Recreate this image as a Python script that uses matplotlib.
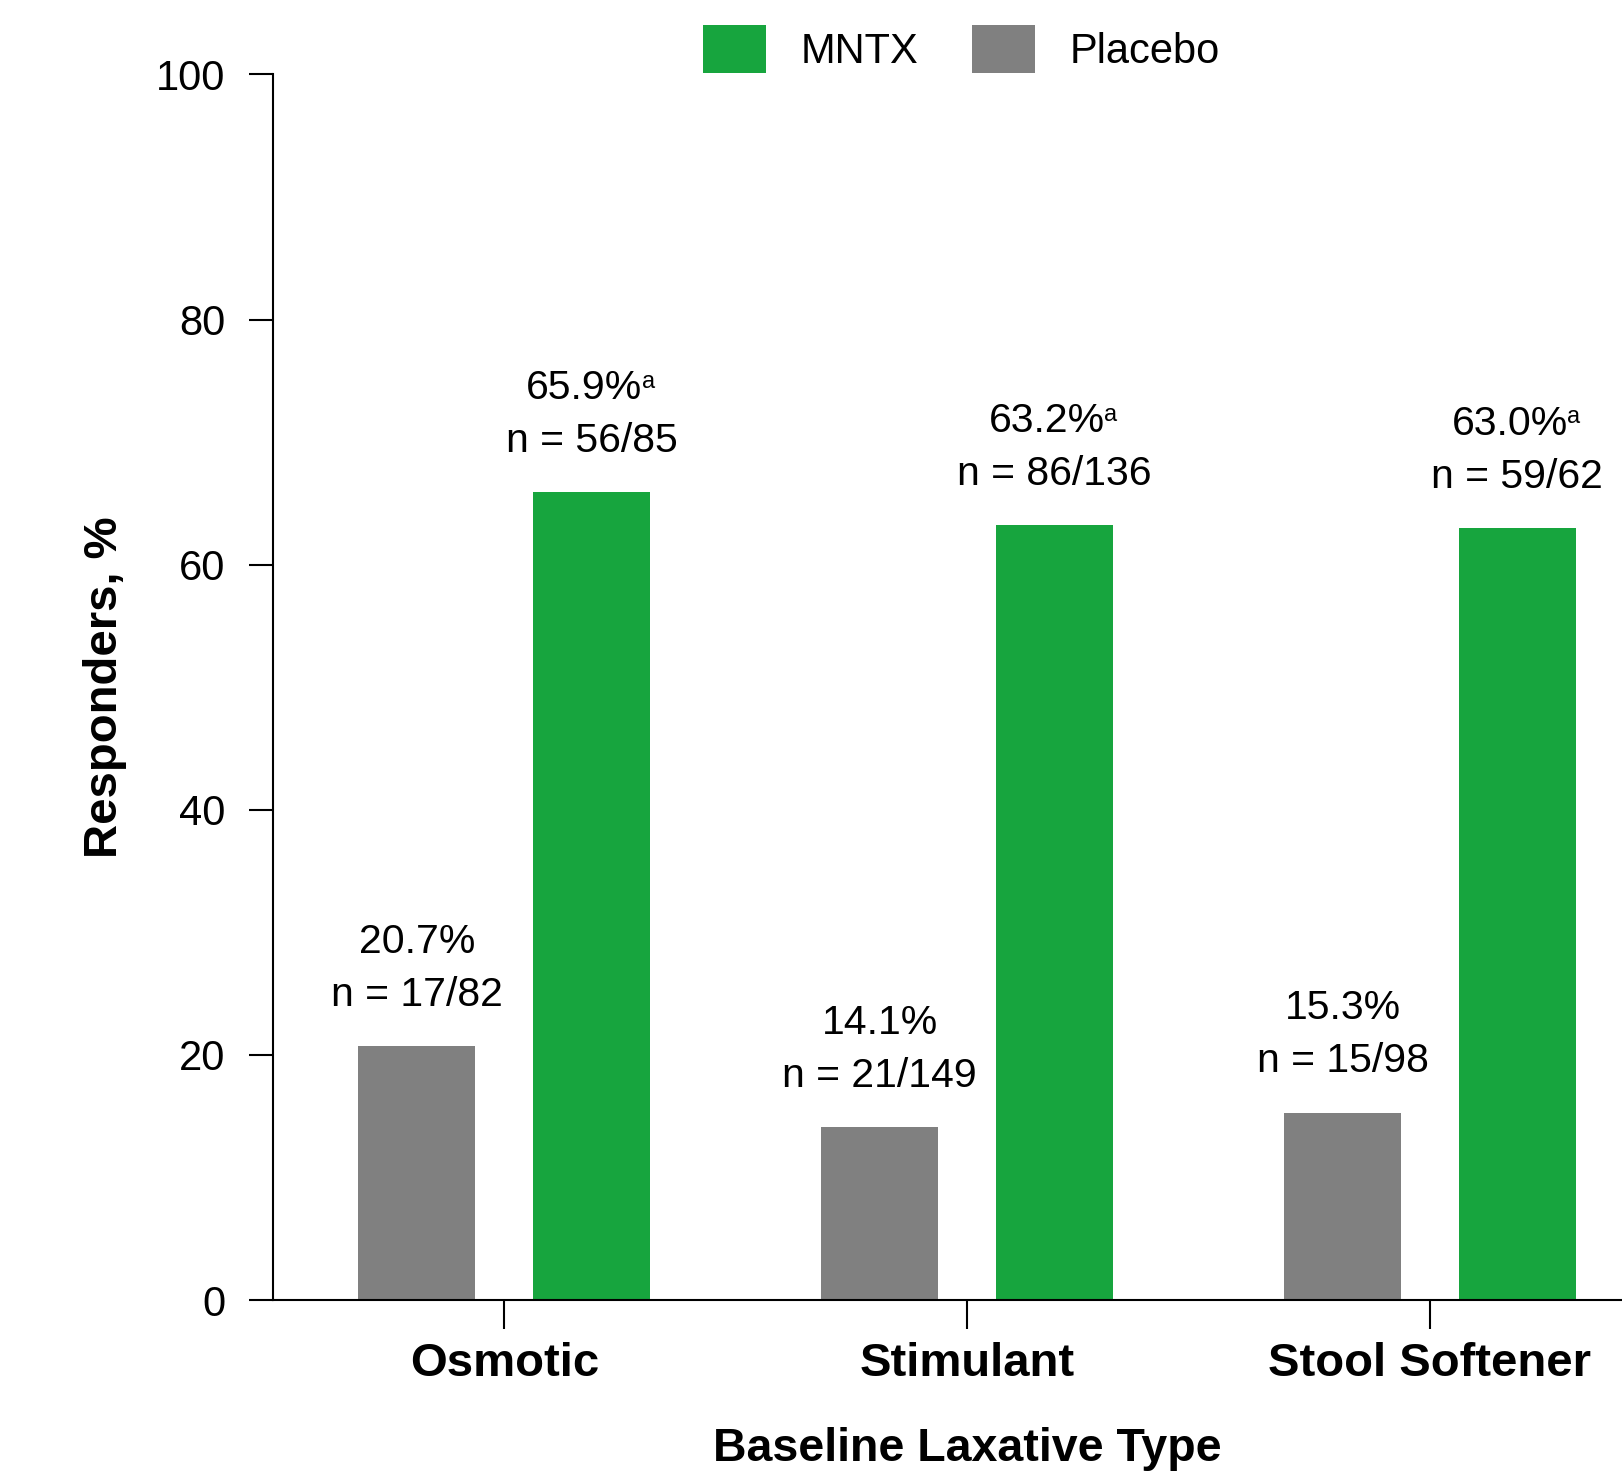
import matplotlib.pyplot as plt
import numpy as np

plt.rcParams['font.family'] = ['Liberation Sans', 'DejaVu Sans']

# data
categories = ['Osmotic', 'Stimulant', 'Stool Softener']
placebo = [20.7, 14.1, 15.3]
mntx = [65.9, 63.2, 63.0]
placebo_n = ['n = 17/82', 'n = 21/149', 'n = 15/98']
mntx_n = ['n = 56/85', 'n = 86/136', 'n = 59/62']
mntx_sup = ['a', 'a', 'a']

green = '#17a53e'
gray = '#808080'

fig = plt.figure(figsize=(16.22, 14.77), dpi=100)
ax = fig.add_axes([0.1683, 0.1198, 0.8317, 0.8298])

x = np.arange(len(categories))
w = 0.253
off = 0.189
b1 = ax.bar(x - off, placebo, w, color=gray, label='Placebo')
b2 = ax.bar(x + off, mntx, w, color=green, label='MNTX')

fs = 29.5
# value labels above bars
for xi, v, n in zip(x - off, placebo, placebo_n):
    ax.annotate(f'{v:.1f}%', (xi, v), xytext=(0, 67), textcoords='offset points',
                ha='center', va='baseline', fontsize=fs)
    ax.annotate(n, (xi, v), xytext=(0, 29), textcoords='offset points',
                ha='center', va='baseline', fontsize=fs)
for xi, v, n, s in zip(x + off, mntx, mntx_n, mntx_sup):
    t = ax.annotate(f'{v:.1f}%', (xi, v), xytext=(-5.5, 67), textcoords='offset points',
                    ha='center', va='baseline', fontsize=fs)
    # superscript footnote mark
    ax.annotate(s, xy=(1, 1), xycoords=t, xytext=(-0.5, -1), textcoords='offset points',
                ha='left', va='top', fontsize=17)
    ax.annotate(n, (xi, v), xytext=(0, 29), textcoords='offset points',
                ha='center', va='baseline', fontsize=fs)

ax.set_xlim(-0.5, 2.415)
ax.set_ylim(0, 100)
ax.set_yticks([0, 20, 40, 60, 80, 100])
ax.set_xticks(x)
ax.set_xticklabels(categories, fontsize=34, fontweight='bold')
ax.tick_params(axis='y', labelsize=30, length=17, width=1.5, pad=17.5)
ax.tick_params(axis='x', length=21, width=1.5, pad=9)
ax.spines['top'].set_visible(False)
ax.spines['right'].set_visible(False)
ax.spines['left'].set_linewidth(1.5)
ax.spines['bottom'].set_linewidth(1.5)

ax.set_ylabel('Responders, %', fontsize=34, fontweight='bold')
ax.yaxis.set_label_coords(-0.1245, 0.5)
ax.yaxis.label.set_va('center')
fig.text(967 / 1622, 1 - 1449 / 1477, 'Baseline Laxative Type', fontsize=33.5,
         fontweight='bold', ha='center', va='center')

fig.legend(handles=[b2, b1], labels=['MNTX', 'Placebo'], loc='center',
           bbox_to_anchor=(961.5 / 1622, 1 - 49 / 1477), ncol=2, frameon=False,
           fontsize=30, handlelength=1.51, handleheight=1.41, handletextpad=0.84,
           columnspacing=1.29, borderpad=0)

fig.savefig('out.png', dpi=100)
